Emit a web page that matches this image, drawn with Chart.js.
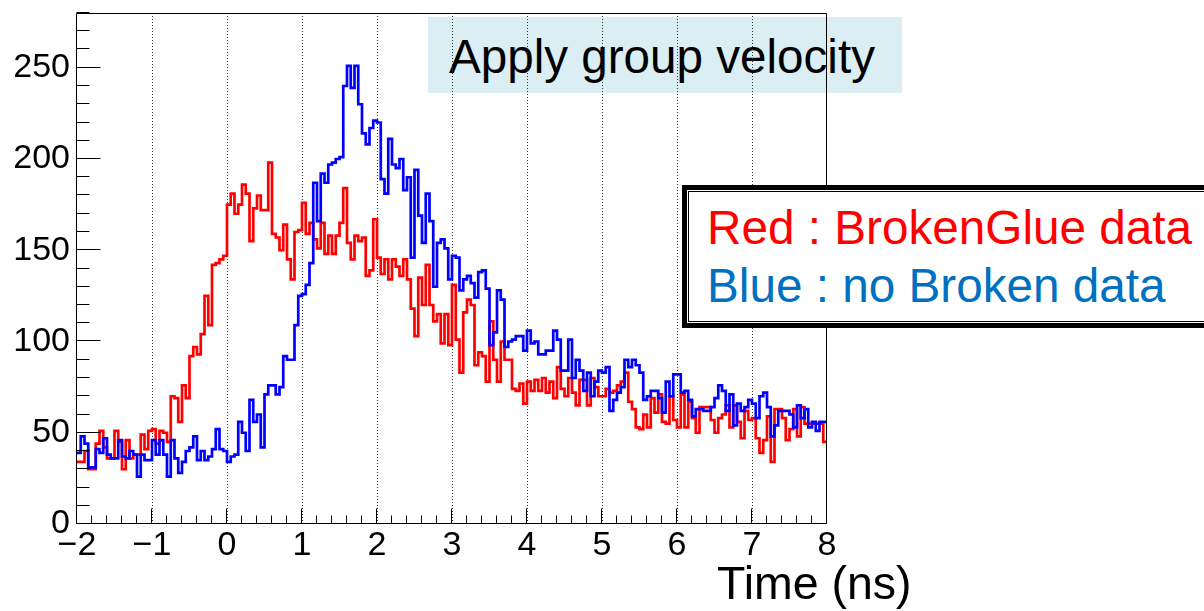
<!DOCTYPE html>
<html>
<head>
<meta charset="utf-8">
<script src="https://cdn.jsdelivr.net/npm/chart.js@4.4.1/dist/chart.umd.min.js"></script>
<style>
  html, body { margin: 0; padding: 0; background: #fff; }
  #wrap { position: relative; width: 1204px; height: 611px; overflow: hidden;
          font-family: "Liberation Sans", Arial, sans-serif; }
  #plot { position: absolute; left: 0; top: 0; z-index: 1; }
  #titleBox { position: absolute; left: 428px; top: 17px; width: 474px; height: 76px;
              background: #daeef3; z-index: 0; }
  .txt { position: absolute; white-space: nowrap; line-height: 1; }
  #titleText { left: 449px; top: 33px; font-size: 47.6px; color: #000; z-index: 0; }
  #legendBox { position: absolute; left: 682px; top: 185px; width: 560px; height: 143px;
               box-sizing: border-box; border: 5px solid #000; background: #fff; z-index: 2; }
  #legendInner { position: absolute; left: 1px; top: 1px; right: 1px; bottom: 1px;
                 border: 1px solid #000; }
  #redLabel { left: 707px; top: 204px; font-size: 47.7px; color: #ff0000; z-index: 3; }
  #blueLabel { left: 707px; top: 262px; font-size: 47.7px; color: #0070c0; z-index: 3; }
  #xTitle { left: 717px; top: 560px; font-size: 46.5px; color: #000; z-index: 3; }
</style>
</head>
<body>
<div id="wrap">
  <div id="titleBox"></div>
  <div class="txt" id="titleText">Apply group velocity</div>
  <canvas id="plot" width="1204" height="611"></canvas>
  <div id="legendBox"><div id="legendInner"></div></div>
  <div class="txt" id="redLabel">Red : BrokenGlue data</div>
  <div class="txt" id="blueLabel">Blue : no Broken data</div>
  <div class="txt" id="xTitle">Time (ns)</div>
</div>
<script>
// Histogram binning: 200 bins of 0.05 ns from -2 ns to 8 ns
const binLow = -2;
const binWidth = 0.05;

// Counts per bin, BrokenGlue sample (red)
const redCounts = [
  34, 34, 40, 30, 30, 44, 51, 42, 36, 36,
  51, 45, 30, 46, 36, 38, 38, 49, 41, 51,
  52, 44, 51, 50, 45, 70, 69, 56, 76, 69,
  92, 97, 93, 104, 125, 109, 142, 143, 145, 147,
  175, 181, 170, 175, 186, 181, 155, 173, 180, 172,
  172, 198, 159, 157, 150, 164, 145, 134, 160, 161,
  176, 159, 165, 156, 151, 165, 148, 158, 148, 158,
  165, 184, 154, 145, 158, 155, 157, 136, 139, 167,
  146, 137, 145, 134, 145, 141, 136, 145, 134, 118,
  103, 135, 120, 142, 120, 111, 115, 99, 115, 98,
  131, 101, 83, 116, 123, 120, 87, 94, 92, 78,
  111, 90, 78, 100, 90, 90, 74, 73, 77, 66,
  78, 73, 79, 73, 80, 72, 78, 69, 86, 74,
  70, 80, 72, 65, 79, 79, 65, 80, 75, 70,
  70, 74, 72, 73, 76, 78, 83, 67, 63, 53,
  52, 60, 53, 69, 61, 71, 56, 55, 70, 57,
  53, 71, 53, 67, 58, 50, 64, 64, 64, 57,
  50, 58, 60, 65, 53, 65, 56, 47, 62, 57,
  58, 47, 39, 46, 59, 34, 63, 63, 58, 46,
  52, 63, 48, 64, 55, 55, 55, 55, 55, 45
];

// Counts per bin, intact sample (blue)
const blueCounts = [
  39, 48, 44, 31, 31, 41, 39, 47, 38, 36,
  36, 46, 37, 36, 40, 38, 26, 38, 35, 35,
  46, 38, 46, 38, 26, 46, 36, 28, 34, 40,
  42, 48, 35, 40, 35, 37, 41, 52, 41, 40,
  34, 37, 38, 56, 50, 40, 68, 56, 60, 42,
  71, 76, 76, 71, 75, 92, 90, 90, 109, 125,
  126, 131, 143, 187, 166, 192, 187, 197, 198, 200,
  201, 240, 251, 239, 251, 230, 214, 208, 217, 221,
  220, 189, 181, 211, 197, 195, 200, 183, 190, 146,
  194, 169, 154, 181, 166, 130, 154, 156, 151, 134,
  147, 146, 128, 134, 136, 132, 124, 138, 139, 129,
  98, 105, 128, 123, 97, 100, 101, 103, 103, 95,
  106, 99, 100, 93, 93, 95, 95, 106, 101, 84,
  84, 101, 80, 90, 84, 73, 83, 70, 78, 84,
  83, 86, 62, 68, 72, 75, 90, 86, 90, 87,
  83, 68, 70, 73, 73, 69, 61, 78, 70, 82,
  82, 72, 73, 68, 59, 63, 63, 62, 62, 64,
  69, 76, 73, 62, 71, 54, 66, 62, 64, 68,
  66, 58, 70, 72, 64, 48, 54, 62, 62, 62,
  60, 53, 65, 58, 63, 53, 56, 51, 56, 56
];

// Axis labelling
const xTickValues = [-2, -1, 0, 1, 2, 3, 4, 5, 6, 7, 8];
const yTickValues = [0, 50, 100, 150, 200, 250];
const xRange = [-2, 8];
const yRange = [0, 280];

// Step outline: one point per bin low edge plus the closing upper edge
function stepPoints(counts) {
  const pts = counts.map((c, i) => ({ x: binLow + i * binWidth, y: c }));
  pts.push({ x: binLow + counts.length * binWidth, y: counts[counts.length - 1] });
  return pts;
}

const tickFont = { family: '"Liberation Sans", Arial, sans-serif', size: 34 };

// Frame and inward-pointing tick marks, in the style of a ROOT canvas
const frameAndTicks = {
  id: 'frameAndTicks',
  afterDatasetsDraw(chart) {
    const { ctx, chartArea: a, scales: { x, y } } = chart;
    ctx.save();
    ctx.strokeStyle = '#000';
    ctx.lineWidth = 1;
    const L = Math.round(a.left) - 0.5, R = Math.round(a.right) - 0.5;
    const T = Math.round(a.top) + 0.5, B = Math.round(a.bottom) - 0.5;
    ctx.beginPath();
    ctx.rect(L, T, R - L, B - T);
    // x ticks: major every 1 ns, minor every 0.2 ns
    for (let k = 0; k <= 50; k++) {
      const v = xRange[0] + k * 0.2;
      const px = Math.round(x.getPixelForValue(v)) - 0.5;
      const len = (k % 5 === 0) ? 15 : 8;
      ctx.moveTo(px, B);
      ctx.lineTo(px, B - len);
    }
    // y ticks: major every 50, minor every 10
    for (let v = yRange[0]; v <= yRange[1]; v += 10) {
      const py = Math.round(y.getPixelForValue(v)) - 0.5;
      const len = (v % 50 === 0) ? 24 : 13;
      ctx.moveTo(L, py);
      ctx.lineTo(L + len, py);
    }
    ctx.stroke();
    ctx.restore();
  }
};

new Chart(document.getElementById('plot'), {
  type: 'line',
  data: {
    datasets: [
      {
        label: 'Blue : no Broken data',
        data: stepPoints(blueCounts),
        borderColor: '#0000ff',
        borderWidth: 2.7,
        stepped: true,
        pointRadius: 0,
        fill: false,
        borderJoinStyle: 'miter'
      },
      {
        label: 'Red : BrokenGlue data',
        data: stepPoints(redCounts),
        borderColor: '#ff0000',
        borderWidth: 2.7,
        stepped: true,
        pointRadius: 0,
        fill: false,
        borderJoinStyle: 'miter'
      }
    ]
  },
  options: {
    responsive: false,
    animation: false,
    devicePixelRatio: 1,
    layout: { padding: { left: 0, right: 377, top: 13, bottom: 0 } },
    plugins: { legend: { display: false }, tooltip: { enabled: false } },
    scales: {
      x: {
        type: 'linear',
        min: xRange[0],
        max: xRange[1],
        afterBuildTicks: s => { s.ticks = xTickValues.map(v => ({ value: v })); },
        afterFit: s => { s.height = 87; s.paddingLeft = 0; s.paddingRight = 0; },
        ticks: {
          font: tickFont,
          color: '#000',
          padding: 1,
          maxRotation: 0,
          autoSkip: false,
          callback: v => (v < 0 ? '\u2212' + Math.abs(v) : String(v))
        },
        grid: {
          drawTicks: false,
          lineWidth: 1,
          color: c => (c.tick && c.tick.value > xRange[0] && c.tick.value < xRange[1]) ? '#333' : 'rgba(0,0,0,0)'
        },
        border: { display: false, dash: [1, 2] }
      },
      y: {
        type: 'linear',
        min: yRange[0],
        max: yRange[1],
        afterBuildTicks: s => { s.ticks = yTickValues.map(v => ({ value: v })); },
        afterFit: s => { s.width = 77; s.paddingTop = 0; s.paddingBottom = 0; },
        ticks: { font: tickFont, color: '#000', padding: 7 },
        grid: { display: false, drawTicks: false },
        border: { display: false }
      }
    }
  },
  plugins: [frameAndTicks]
});
</script>
</body>
</html>
